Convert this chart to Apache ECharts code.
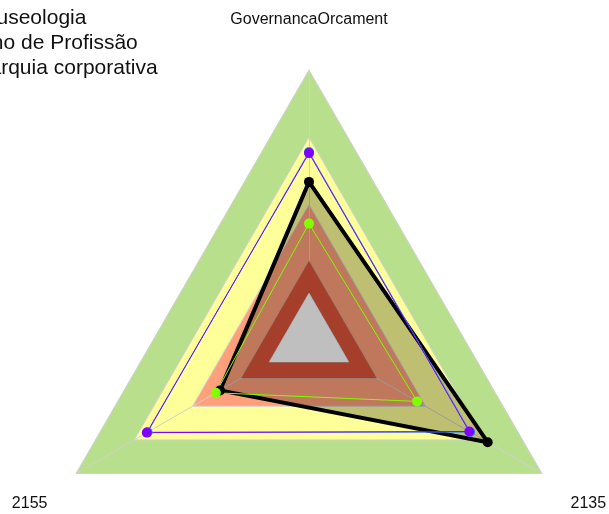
<!DOCTYPE html>
<html>
<head>
<meta charset="utf-8">
<title>Radar</title>
<script src="https://cdn.jsdelivr.net/npm/echarts@6/dist/echarts.min.js"></script>
<style>
  html, body { margin: 0; padding: 0; background: #fff; }
  #chart { width: 609px; height: 514px; }
</style>
</head>
<body>
<div id="chart"></div>
<script>
// eixos do radar
const indicators = ["GovernancaOrcament", "2155", "2135"];
const axisMax = 100;

// nomes da legenda
const legendNames = ["Museologia", "Ensino de Profissão", "Hierarquia corporativa"];

// valores das series
const museologia = [69.1, 69.6, 68.8];
const museologiaLinha = [69.5, 69.3, 69.2];
const profissao = [58.4, 38.2, 76.7];
const hierarquia = [42.9, 40.0, 46.4];

// faixas internas
const faixaMedia = [29, 29, 29];
const faixaCentro = [17.1, 17.1, 17.1];

const font = "Liberation Sans, Arial, sans-serif";
const myChart = echarts.init(document.getElementById("chart"));

myChart.setOption({
  animation: false,
  legend: {
    orient: "vertical",
    left: -84,
    top: 3,
    itemGap: 4,
    itemWidth: 25,
    itemHeight: 14,
    data: [
      // a primeira entrada fica recuada para cortar so o "M"
      { name: legendNames[0], textStyle: { padding: [0, 0, 0, 28] } },
      { name: legendNames[1] },
      { name: legendNames[2] }
    ],
    textStyle: { fontSize: 21, color: "#111", fontFamily: font }
  },
  radar: {
    center: [309, 339],
    radius: 269,
    startAngle: 90,
    shape: "polygon",
    splitNumber: 4,
    nameGap: 33,
    indicator: indicators.map(n => ({ name: n, min: 0, max: axisMax })),
    axisName: {
      color: "#111",
      fontSize: 16,
      fontFamily: font,
      lineHeight: 28,
      padding: [0, 0, 3, 0],
      // os nomes de baixo descem meia linha
      formatter: name => (name === indicators[0] ? name : "\n" + name)
    },
    splitArea: {
      show: true,
      areaStyle: { color: ["#ffa07a", "#ffa07a", "#ffff99", "#b8e08c"] }
    },
    splitLine: { lineStyle: { color: "#d0d0d0", width: 1 } },
    axisLine: { lineStyle: { color: "#d0d0d0", width: 1 } }
  },
  series: [
    {
      type: "radar",
      silent: true,
      symbol: "none",
      data: [
        {
          value: faixaMedia,
          lineStyle: { color: "#aaa", width: 1 },
          areaStyle: { color: "#dd553b", opacity: 1 }
        },
        {
          value: faixaCentro,
          lineStyle: { color: "#bbb", width: 1 },
          areaStyle: { color: "#ffffff", opacity: 1 }
        }
      ]
    },
    {
      name: legendNames[1],
      type: "radar",
      symbol: "circle",
      symbolSize: 10,
      itemStyle: { color: "#000" },
      lineStyle: { color: "#000", width: 4 },
      areaStyle: { color: "rgba(0,0,0,0.25)", opacity: 1 },
      data: [{ value: profissao, name: legendNames[1] }]
    },
    {
      name: legendNames[0],
      type: "radar",
      symbol: "circle",
      symbolSize: 10,
      itemStyle: { color: "#1e90ff" },
      lineStyle: { color: "#1e90ff", width: 1 },
      data: [{ value: museologiaLinha, name: legendNames[0] }]
    },
    {
      name: legendNames[0],
      type: "radar",
      symbol: "circle",
      symbolSize: 10,
      itemStyle: { color: "#8000ff" },
      lineStyle: { color: "#8000ff", width: 1 },
      data: [{ value: museologia, name: legendNames[0] }]
    },
    {
      name: legendNames[2],
      type: "radar",
      symbol: "circle",
      symbolSize: 10,
      itemStyle: { color: "#7fff00" },
      lineStyle: { color: "#7fff00", width: 1 },
      data: [{ value: hierarquia, name: legendNames[2] }]
    }
  ]
});
</script>
</body>
</html>
